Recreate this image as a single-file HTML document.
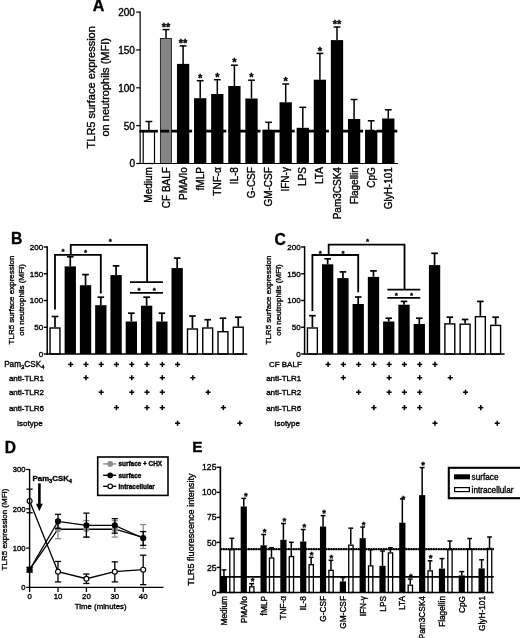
<!DOCTYPE html>
<html lang="en"><head><meta charset="utf-8"><title>TLR5 expression on neutrophils</title>
<style>html,body{margin:0;padding:0;background:#fff}body{width:520px;height:638px;overflow:hidden}svg{display:block}text{font-family:"Liberation Sans", sans-serif;fill:#000;stroke:#000;stroke-width:0.35px}</style>
</head><body>
<svg width="520" height="638" viewBox="0 0 520 638">
<rect width="520" height="638" fill="#fff"/>
<g id="panelA">
<text x="92.70" y="11.20" font-size="16" text-anchor="start" font-weight="bold" >A</text>
<text x="94.90" y="87.30" font-size="11" text-anchor="middle" font-weight="normal" transform="rotate(-90 94.90 87.30)" >TLR5 surface expression</text>
<text x="108.90" y="87.30" font-size="11" text-anchor="middle" font-weight="normal" transform="rotate(-90 108.90 87.30)" >on neutrophils (MFI)</text>
<line x1="148.90" y1="121.50" x2="148.90" y2="131.00" stroke="#000" stroke-width="1.5" />
<line x1="145.50" y1="121.50" x2="152.30" y2="121.50" stroke="#000" stroke-width="1.5" />
<rect x="143.20" y="131.00" width="11.30" height="32.50" fill="#fff" stroke="#000" stroke-width="1.2"/>
<text x="152.50" y="167.10" font-size="10" text-anchor="end" font-weight="normal" transform="rotate(-90 152.50 167.10)" >Medium</text>
<line x1="166.00" y1="29.60" x2="166.00" y2="38.10" stroke="#000" stroke-width="1.5" />
<line x1="162.60" y1="29.60" x2="169.40" y2="29.60" stroke="#000" stroke-width="1.5" />
<rect x="160.45" y="38.50" width="11.00" height="125.00" fill="#848484" stroke="#2a2a2a" stroke-width="1.0"/>
<text x="166.00" y="30.70" font-size="11" text-anchor="middle" font-weight="bold" >**</text>
<text x="169.60" y="167.10" font-size="10" text-anchor="end" font-weight="normal" transform="rotate(-90 169.60 167.10)" >CF BALF</text>
<line x1="183.10" y1="45.90" x2="183.10" y2="63.90" stroke="#000" stroke-width="1.5" />
<line x1="179.70" y1="45.90" x2="186.50" y2="45.90" stroke="#000" stroke-width="1.5" />
<rect x="176.95" y="63.90" width="12.30" height="99.60" fill="#000"/>
<text x="183.10" y="47.00" font-size="11" text-anchor="middle" font-weight="bold" >**</text>
<text x="186.70" y="167.10" font-size="10" text-anchor="end" font-weight="normal" transform="rotate(-90 186.70 167.10)" >PMA/Io</text>
<line x1="200.20" y1="80.70" x2="200.20" y2="98.20" stroke="#000" stroke-width="1.5" />
<line x1="196.80" y1="80.70" x2="203.60" y2="80.70" stroke="#000" stroke-width="1.5" />
<rect x="194.05" y="98.20" width="12.30" height="65.30" fill="#000"/>
<text x="200.20" y="81.80" font-size="11" text-anchor="middle" font-weight="bold" >*</text>
<text x="203.80" y="167.10" font-size="10" text-anchor="end" font-weight="normal" transform="rotate(-90 203.80 167.10)" >fMLP</text>
<line x1="217.30" y1="79.70" x2="217.30" y2="94.00" stroke="#000" stroke-width="1.5" />
<line x1="213.90" y1="79.70" x2="220.70" y2="79.70" stroke="#000" stroke-width="1.5" />
<rect x="211.15" y="94.00" width="12.30" height="69.50" fill="#000"/>
<text x="217.30" y="80.80" font-size="11" text-anchor="middle" font-weight="bold" >*</text>
<text x="220.90" y="167.10" font-size="10" text-anchor="end" font-weight="normal" transform="rotate(-90 220.90 167.10)" >TNF-α</text>
<line x1="234.40" y1="65.20" x2="234.40" y2="86.00" stroke="#000" stroke-width="1.5" />
<line x1="231.00" y1="65.20" x2="237.80" y2="65.20" stroke="#000" stroke-width="1.5" />
<rect x="228.25" y="86.00" width="12.30" height="77.50" fill="#000"/>
<text x="234.40" y="66.30" font-size="11" text-anchor="middle" font-weight="bold" >*</text>
<text x="238.00" y="167.10" font-size="10" text-anchor="end" font-weight="normal" transform="rotate(-90 238.00 167.10)" >IL-8</text>
<line x1="251.50" y1="80.20" x2="251.50" y2="98.50" stroke="#000" stroke-width="1.5" />
<line x1="248.10" y1="80.20" x2="254.90" y2="80.20" stroke="#000" stroke-width="1.5" />
<rect x="245.35" y="98.50" width="12.30" height="65.00" fill="#000"/>
<text x="251.50" y="81.30" font-size="11" text-anchor="middle" font-weight="bold" >*</text>
<text x="255.10" y="167.10" font-size="10" text-anchor="end" font-weight="normal" transform="rotate(-90 255.10 167.10)" >G-CSF</text>
<line x1="268.60" y1="122.30" x2="268.60" y2="129.80" stroke="#000" stroke-width="1.5" />
<line x1="265.20" y1="122.30" x2="272.00" y2="122.30" stroke="#000" stroke-width="1.5" />
<rect x="262.45" y="129.80" width="12.30" height="33.70" fill="#000"/>
<text x="272.20" y="167.10" font-size="10" text-anchor="end" font-weight="normal" transform="rotate(-90 272.20 167.10)" >GM-CSF</text>
<line x1="285.70" y1="84.00" x2="285.70" y2="102.30" stroke="#000" stroke-width="1.5" />
<line x1="282.30" y1="84.00" x2="289.10" y2="84.00" stroke="#000" stroke-width="1.5" />
<rect x="279.55" y="102.30" width="12.30" height="61.20" fill="#000"/>
<text x="285.70" y="85.10" font-size="11" text-anchor="middle" font-weight="bold" >*</text>
<text x="289.30" y="167.10" font-size="10" text-anchor="end" font-weight="normal" transform="rotate(-90 289.30 167.10)" >IFN-γ</text>
<line x1="302.80" y1="107.30" x2="302.80" y2="127.80" stroke="#000" stroke-width="1.5" />
<line x1="299.40" y1="107.30" x2="306.20" y2="107.30" stroke="#000" stroke-width="1.5" />
<rect x="296.65" y="127.80" width="12.30" height="35.70" fill="#000"/>
<text x="306.40" y="167.10" font-size="10" text-anchor="end" font-weight="normal" transform="rotate(-90 306.40 167.10)" >LPS</text>
<line x1="319.90" y1="53.40" x2="319.90" y2="79.70" stroke="#000" stroke-width="1.5" />
<line x1="316.50" y1="53.40" x2="323.30" y2="53.40" stroke="#000" stroke-width="1.5" />
<rect x="313.75" y="79.70" width="12.30" height="83.80" fill="#000"/>
<text x="319.90" y="54.50" font-size="11" text-anchor="middle" font-weight="bold" >*</text>
<text x="323.50" y="167.10" font-size="10" text-anchor="end" font-weight="normal" transform="rotate(-90 323.50 167.10)" >LTA</text>
<line x1="337.00" y1="27.00" x2="337.00" y2="40.10" stroke="#000" stroke-width="1.5" />
<line x1="333.60" y1="27.00" x2="340.40" y2="27.00" stroke="#000" stroke-width="1.5" />
<rect x="330.85" y="40.10" width="12.30" height="123.40" fill="#000"/>
<text x="337.00" y="28.10" font-size="11" text-anchor="middle" font-weight="bold" >**</text>
<text x="340.60" y="167.10" font-size="10" text-anchor="end" font-weight="normal" transform="rotate(-90 340.60 167.10)" >Pam3CSK4</text>
<line x1="354.10" y1="99.50" x2="354.10" y2="119.00" stroke="#000" stroke-width="1.5" />
<line x1="350.70" y1="99.50" x2="357.50" y2="99.50" stroke="#000" stroke-width="1.5" />
<rect x="347.95" y="119.00" width="12.30" height="44.50" fill="#000"/>
<text x="357.70" y="167.10" font-size="10" text-anchor="end" font-weight="normal" transform="rotate(-90 357.70 167.10)" >Flagellin</text>
<line x1="371.20" y1="120.80" x2="371.20" y2="130.30" stroke="#000" stroke-width="1.5" />
<line x1="367.80" y1="120.80" x2="374.60" y2="120.80" stroke="#000" stroke-width="1.5" />
<rect x="365.05" y="130.30" width="12.30" height="33.20" fill="#000"/>
<text x="374.80" y="167.10" font-size="10" text-anchor="end" font-weight="normal" transform="rotate(-90 374.80 167.10)" >CpG</text>
<line x1="388.30" y1="109.80" x2="388.30" y2="118.50" stroke="#000" stroke-width="1.5" />
<line x1="384.90" y1="109.80" x2="391.70" y2="109.80" stroke="#000" stroke-width="1.5" />
<rect x="382.15" y="118.50" width="12.30" height="45.00" fill="#000"/>
<text x="391.90" y="167.10" font-size="10" text-anchor="end" font-weight="normal" transform="rotate(-90 391.90 167.10)" >GlyH-101</text>
<line x1="140.15" y1="11.60" x2="140.15" y2="164.10" stroke="#000" stroke-width="1.2" />
<line x1="139.55" y1="163.50" x2="398.00" y2="163.50" stroke="#000" stroke-width="1.2" />
<line x1="136.15" y1="163.50" x2="140.15" y2="163.50" stroke="#000" stroke-width="1.2" />
<text x="134.95" y="167.40" font-size="10" text-anchor="end" font-weight="normal" >0</text>
<line x1="136.15" y1="125.65" x2="140.15" y2="125.65" stroke="#000" stroke-width="1.2" />
<text x="134.95" y="129.55" font-size="10" text-anchor="end" font-weight="normal" >50</text>
<line x1="136.15" y1="87.80" x2="140.15" y2="87.80" stroke="#000" stroke-width="1.2" />
<text x="134.95" y="91.70" font-size="10" text-anchor="end" font-weight="normal" >100</text>
<line x1="136.15" y1="49.95" x2="140.15" y2="49.95" stroke="#000" stroke-width="1.2" />
<text x="134.95" y="53.85" font-size="10" text-anchor="end" font-weight="normal" >150</text>
<line x1="136.15" y1="12.10" x2="140.15" y2="12.10" stroke="#000" stroke-width="1.2" />
<text x="134.95" y="16.00" font-size="10" text-anchor="end" font-weight="normal" >200</text>
<line x1="139.40" y1="131.20" x2="157.90" y2="131.20" stroke="#000" stroke-width="2.7" />
<line x1="160.10" y1="131.20" x2="398.50" y2="131.20" stroke="#000" stroke-width="2.7" stroke-dasharray="9.2 2.2"/>
</g>
<g id="panelB">
<text x="11.10" y="244.40" font-size="15.7" text-anchor="start" font-weight="bold" >B</text>
<text x="13.60" y="300.00" font-size="8" text-anchor="middle" font-weight="normal" transform="rotate(-90 13.60 300.00)" >TLR5 surface expression</text>
<text x="23.60" y="300.00" font-size="8" text-anchor="middle" font-weight="normal" transform="rotate(-90 23.60 300.00)" >on neutrophils (MFI)</text>
<line x1="55.00" y1="316.50" x2="55.00" y2="327.30" stroke="#000" stroke-width="1.7" />
<line x1="51.70" y1="316.50" x2="58.30" y2="316.50" stroke="#000" stroke-width="1.7" />
<rect x="50.05" y="328.00" width="9.90" height="26.00" fill="#fff" stroke="#000" stroke-width="1.4"/>
<line x1="70.27" y1="256.80" x2="70.27" y2="266.40" stroke="#000" stroke-width="1.7" />
<line x1="66.97" y1="256.80" x2="73.57" y2="256.80" stroke="#000" stroke-width="1.7" />
<rect x="64.62" y="266.40" width="11.30" height="87.60" fill="#000"/>
<line x1="85.54" y1="274.60" x2="85.54" y2="285.20" stroke="#000" stroke-width="1.7" />
<line x1="82.24" y1="274.60" x2="88.84" y2="274.60" stroke="#000" stroke-width="1.7" />
<rect x="79.89" y="285.20" width="11.30" height="68.80" fill="#000"/>
<line x1="100.81" y1="297.20" x2="100.81" y2="305.20" stroke="#000" stroke-width="1.7" />
<line x1="97.51" y1="297.20" x2="104.11" y2="297.20" stroke="#000" stroke-width="1.7" />
<rect x="95.16" y="305.20" width="11.30" height="48.80" fill="#000"/>
<line x1="116.08" y1="265.90" x2="116.08" y2="275.10" stroke="#000" stroke-width="1.7" />
<line x1="112.78" y1="265.90" x2="119.38" y2="265.90" stroke="#000" stroke-width="1.7" />
<rect x="110.43" y="275.10" width="11.30" height="78.90" fill="#000"/>
<line x1="131.35" y1="313.20" x2="131.35" y2="321.50" stroke="#000" stroke-width="1.7" />
<line x1="128.05" y1="313.20" x2="134.65" y2="313.20" stroke="#000" stroke-width="1.7" />
<rect x="125.70" y="321.50" width="11.30" height="32.50" fill="#000"/>
<line x1="146.62" y1="297.20" x2="146.62" y2="305.70" stroke="#000" stroke-width="1.7" />
<line x1="143.32" y1="297.20" x2="149.92" y2="297.20" stroke="#000" stroke-width="1.7" />
<rect x="140.97" y="305.70" width="11.30" height="48.30" fill="#000"/>
<line x1="161.89" y1="313.20" x2="161.89" y2="321.50" stroke="#000" stroke-width="1.7" />
<line x1="158.59" y1="313.20" x2="165.19" y2="313.20" stroke="#000" stroke-width="1.7" />
<rect x="156.24" y="321.50" width="11.30" height="32.50" fill="#000"/>
<line x1="177.16" y1="258.10" x2="177.16" y2="268.10" stroke="#000" stroke-width="1.7" />
<line x1="173.86" y1="258.10" x2="180.46" y2="258.10" stroke="#000" stroke-width="1.7" />
<rect x="171.51" y="268.10" width="11.30" height="85.90" fill="#000"/>
<line x1="192.43" y1="316.00" x2="192.43" y2="328.30" stroke="#000" stroke-width="1.7" />
<line x1="189.13" y1="316.00" x2="195.73" y2="316.00" stroke="#000" stroke-width="1.7" />
<rect x="187.48" y="329.00" width="9.90" height="25.00" fill="#fff" stroke="#000" stroke-width="1.4"/>
<line x1="207.70" y1="319.70" x2="207.70" y2="327.30" stroke="#000" stroke-width="1.7" />
<line x1="204.40" y1="319.70" x2="211.00" y2="319.70" stroke="#000" stroke-width="1.7" />
<rect x="202.75" y="328.00" width="9.90" height="26.00" fill="#fff" stroke="#000" stroke-width="1.4"/>
<line x1="222.97" y1="318.20" x2="222.97" y2="331.00" stroke="#000" stroke-width="1.7" />
<line x1="219.67" y1="318.20" x2="226.27" y2="318.20" stroke="#000" stroke-width="1.7" />
<rect x="218.02" y="331.70" width="9.90" height="22.30" fill="#fff" stroke="#000" stroke-width="1.4"/>
<line x1="238.24" y1="317.20" x2="238.24" y2="326.50" stroke="#000" stroke-width="1.7" />
<line x1="234.94" y1="317.20" x2="241.54" y2="317.20" stroke="#000" stroke-width="1.7" />
<rect x="233.29" y="327.20" width="9.90" height="26.80" fill="#fff" stroke="#000" stroke-width="1.4"/>
<line x1="47.20" y1="246.30" x2="47.20" y2="354.70" stroke="#000" stroke-width="1.5" />
<line x1="46.50" y1="354.00" x2="247.20" y2="354.00" stroke="#000" stroke-width="1.5" />
<line x1="43.70" y1="354.00" x2="47.20" y2="354.00" stroke="#000" stroke-width="1.4" />
<text x="43.20" y="356.90" font-size="8" text-anchor="end" font-weight="normal" >0</text>
<line x1="43.70" y1="327.25" x2="47.20" y2="327.25" stroke="#000" stroke-width="1.4" />
<text x="43.20" y="330.15" font-size="8" text-anchor="end" font-weight="normal" >50</text>
<line x1="43.70" y1="300.50" x2="47.20" y2="300.50" stroke="#000" stroke-width="1.4" />
<text x="43.20" y="303.40" font-size="8" text-anchor="end" font-weight="normal" >100</text>
<line x1="43.70" y1="273.75" x2="47.20" y2="273.75" stroke="#000" stroke-width="1.4" />
<text x="43.20" y="276.65" font-size="8" text-anchor="end" font-weight="normal" >150</text>
<line x1="43.70" y1="247.00" x2="47.20" y2="247.00" stroke="#000" stroke-width="1.4" />
<text x="43.20" y="249.90" font-size="8" text-anchor="end" font-weight="normal" >200</text>
<polyline points="55.00,309.50 55.00,254.80 100.81,254.80 100.81,293.50" fill="none" stroke="#000" stroke-width="1.8"/>
<polyline points="70.77,254.80 70.77,244.80 147.12,244.80 147.12,282.10" fill="none" stroke="#000" stroke-width="1.8"/>
<line x1="129.95" y1="282.10" x2="162.89" y2="282.10" stroke="#000" stroke-width="1.8" />
<line x1="129.95" y1="292.90" x2="162.89" y2="292.90" stroke="#000" stroke-width="1.8" />
<text x="138.99" y="293.10" font-size="8" text-anchor="middle" font-weight="bold" >*</text>
<text x="154.25" y="293.10" font-size="8" text-anchor="middle" font-weight="bold" >*</text>
<text x="62.94" y="254.20" font-size="8" text-anchor="middle" font-weight="bold" >*</text>
<text x="85.68" y="255.40" font-size="8" text-anchor="middle" font-weight="bold" >*</text>
<text x="110.28" y="244.10" font-size="8" text-anchor="middle" font-weight="bold" >*</text>
<text x="44.50" y="367.30" font-size="8" text-anchor="end" font-weight="normal" ><tspan font-size="8.2">Pam</tspan><tspan font-size="6" dy="1.5">3</tspan><tspan font-size="8.2" dy="-1.5">CSK</tspan><tspan font-size="6" dy="1.5">4</tspan></text>
<line x1="68.12" y1="364.40" x2="73.22" y2="364.40" stroke="#000" stroke-width="1.5" />
<line x1="70.67" y1="361.85" x2="70.67" y2="366.95" stroke="#000" stroke-width="1.5" />
<line x1="83.39" y1="364.40" x2="88.49" y2="364.40" stroke="#000" stroke-width="1.5" />
<line x1="85.94" y1="361.85" x2="85.94" y2="366.95" stroke="#000" stroke-width="1.5" />
<line x1="98.66" y1="364.40" x2="103.76" y2="364.40" stroke="#000" stroke-width="1.5" />
<line x1="101.21" y1="361.85" x2="101.21" y2="366.95" stroke="#000" stroke-width="1.5" />
<line x1="113.93" y1="364.40" x2="119.03" y2="364.40" stroke="#000" stroke-width="1.5" />
<line x1="116.48" y1="361.85" x2="116.48" y2="366.95" stroke="#000" stroke-width="1.5" />
<line x1="129.20" y1="364.40" x2="134.30" y2="364.40" stroke="#000" stroke-width="1.5" />
<line x1="131.75" y1="361.85" x2="131.75" y2="366.95" stroke="#000" stroke-width="1.5" />
<line x1="144.47" y1="364.40" x2="149.57" y2="364.40" stroke="#000" stroke-width="1.5" />
<line x1="147.02" y1="361.85" x2="147.02" y2="366.95" stroke="#000" stroke-width="1.5" />
<line x1="159.74" y1="364.40" x2="164.84" y2="364.40" stroke="#000" stroke-width="1.5" />
<line x1="162.29" y1="361.85" x2="162.29" y2="366.95" stroke="#000" stroke-width="1.5" />
<line x1="175.01" y1="364.40" x2="180.11" y2="364.40" stroke="#000" stroke-width="1.5" />
<line x1="177.56" y1="361.85" x2="177.56" y2="366.95" stroke="#000" stroke-width="1.5" />
<text x="44.00" y="380.60" font-size="8" text-anchor="end" font-weight="normal" >anti-TLR1</text>
<line x1="83.39" y1="377.70" x2="88.49" y2="377.70" stroke="#000" stroke-width="1.5" />
<line x1="85.94" y1="375.15" x2="85.94" y2="380.25" stroke="#000" stroke-width="1.5" />
<line x1="129.20" y1="377.70" x2="134.30" y2="377.70" stroke="#000" stroke-width="1.5" />
<line x1="131.75" y1="375.15" x2="131.75" y2="380.25" stroke="#000" stroke-width="1.5" />
<line x1="159.74" y1="377.70" x2="164.84" y2="377.70" stroke="#000" stroke-width="1.5" />
<line x1="162.29" y1="375.15" x2="162.29" y2="380.25" stroke="#000" stroke-width="1.5" />
<line x1="190.28" y1="377.70" x2="195.38" y2="377.70" stroke="#000" stroke-width="1.5" />
<line x1="192.83" y1="375.15" x2="192.83" y2="380.25" stroke="#000" stroke-width="1.5" />
<text x="44.00" y="395.10" font-size="8" text-anchor="end" font-weight="normal" >anti-TLR2</text>
<line x1="98.66" y1="392.20" x2="103.76" y2="392.20" stroke="#000" stroke-width="1.5" />
<line x1="101.21" y1="389.65" x2="101.21" y2="394.75" stroke="#000" stroke-width="1.5" />
<line x1="129.20" y1="392.20" x2="134.30" y2="392.20" stroke="#000" stroke-width="1.5" />
<line x1="131.75" y1="389.65" x2="131.75" y2="394.75" stroke="#000" stroke-width="1.5" />
<line x1="144.47" y1="392.20" x2="149.57" y2="392.20" stroke="#000" stroke-width="1.5" />
<line x1="147.02" y1="389.65" x2="147.02" y2="394.75" stroke="#000" stroke-width="1.5" />
<line x1="159.74" y1="392.20" x2="164.84" y2="392.20" stroke="#000" stroke-width="1.5" />
<line x1="162.29" y1="389.65" x2="162.29" y2="394.75" stroke="#000" stroke-width="1.5" />
<line x1="205.55" y1="392.20" x2="210.65" y2="392.20" stroke="#000" stroke-width="1.5" />
<line x1="208.10" y1="389.65" x2="208.10" y2="394.75" stroke="#000" stroke-width="1.5" />
<text x="44.00" y="410.50" font-size="8" text-anchor="end" font-weight="normal" >anti-TLR6</text>
<line x1="113.93" y1="407.60" x2="119.03" y2="407.60" stroke="#000" stroke-width="1.5" />
<line x1="116.48" y1="405.05" x2="116.48" y2="410.15" stroke="#000" stroke-width="1.5" />
<line x1="144.47" y1="407.60" x2="149.57" y2="407.60" stroke="#000" stroke-width="1.5" />
<line x1="147.02" y1="405.05" x2="147.02" y2="410.15" stroke="#000" stroke-width="1.5" />
<line x1="159.74" y1="407.60" x2="164.84" y2="407.60" stroke="#000" stroke-width="1.5" />
<line x1="162.29" y1="405.05" x2="162.29" y2="410.15" stroke="#000" stroke-width="1.5" />
<line x1="220.82" y1="407.60" x2="225.92" y2="407.60" stroke="#000" stroke-width="1.5" />
<line x1="223.37" y1="405.05" x2="223.37" y2="410.15" stroke="#000" stroke-width="1.5" />
<text x="42.70" y="426.10" font-size="8" text-anchor="end" font-weight="normal" >Isotype</text>
<line x1="175.01" y1="423.20" x2="180.11" y2="423.20" stroke="#000" stroke-width="1.5" />
<line x1="177.56" y1="420.65" x2="177.56" y2="425.75" stroke="#000" stroke-width="1.5" />
<line x1="237.29" y1="423.20" x2="242.39" y2="423.20" stroke="#000" stroke-width="1.5" />
<line x1="239.84" y1="420.65" x2="239.84" y2="425.75" stroke="#000" stroke-width="1.5" />
</g>
<g id="panelC">
<text x="274.60" y="244.80" font-size="15.7" text-anchor="start" font-weight="bold" >C</text>
<text x="271.00" y="300.00" font-size="8" text-anchor="middle" font-weight="normal" transform="rotate(-90 271.00 300.00)" >TLR5 surface expression</text>
<text x="281.00" y="300.00" font-size="8" text-anchor="middle" font-weight="normal" transform="rotate(-90 281.00 300.00)" >on neutrophils (MFI)</text>
<line x1="312.40" y1="315.70" x2="312.40" y2="327.30" stroke="#000" stroke-width="1.7" />
<line x1="309.10" y1="315.70" x2="315.70" y2="315.70" stroke="#000" stroke-width="1.7" />
<rect x="307.45" y="328.00" width="9.90" height="26.00" fill="#fff" stroke="#000" stroke-width="1.4"/>
<line x1="327.67" y1="258.80" x2="327.67" y2="264.30" stroke="#000" stroke-width="1.7" />
<line x1="324.37" y1="258.80" x2="330.97" y2="258.80" stroke="#000" stroke-width="1.7" />
<rect x="322.02" y="264.30" width="11.30" height="89.70" fill="#000"/>
<line x1="342.94" y1="271.90" x2="342.94" y2="278.10" stroke="#000" stroke-width="1.7" />
<line x1="339.64" y1="271.90" x2="346.24" y2="271.90" stroke="#000" stroke-width="1.7" />
<rect x="337.29" y="278.10" width="11.30" height="75.90" fill="#000"/>
<line x1="358.21" y1="297.00" x2="358.21" y2="304.00" stroke="#000" stroke-width="1.7" />
<line x1="354.91" y1="297.00" x2="361.51" y2="297.00" stroke="#000" stroke-width="1.7" />
<rect x="352.56" y="304.00" width="11.30" height="50.00" fill="#000"/>
<line x1="373.48" y1="270.90" x2="373.48" y2="276.90" stroke="#000" stroke-width="1.7" />
<line x1="370.18" y1="270.90" x2="376.78" y2="270.90" stroke="#000" stroke-width="1.7" />
<rect x="367.83" y="276.90" width="11.30" height="77.10" fill="#000"/>
<line x1="388.75" y1="318.20" x2="388.75" y2="321.50" stroke="#000" stroke-width="1.7" />
<line x1="385.45" y1="318.20" x2="392.05" y2="318.20" stroke="#000" stroke-width="1.7" />
<rect x="383.10" y="321.50" width="11.30" height="32.50" fill="#000"/>
<line x1="404.02" y1="301.40" x2="404.02" y2="304.70" stroke="#000" stroke-width="1.7" />
<line x1="400.72" y1="301.40" x2="407.32" y2="301.40" stroke="#000" stroke-width="1.7" />
<rect x="398.37" y="304.70" width="11.30" height="49.30" fill="#000"/>
<line x1="419.29" y1="318.20" x2="419.29" y2="324.00" stroke="#000" stroke-width="1.7" />
<line x1="415.99" y1="318.20" x2="422.59" y2="318.20" stroke="#000" stroke-width="1.7" />
<rect x="413.64" y="324.00" width="11.30" height="30.00" fill="#000"/>
<line x1="434.56" y1="253.30" x2="434.56" y2="265.10" stroke="#000" stroke-width="1.7" />
<line x1="431.26" y1="253.30" x2="437.86" y2="253.30" stroke="#000" stroke-width="1.7" />
<rect x="428.91" y="265.10" width="11.30" height="88.90" fill="#000"/>
<line x1="449.83" y1="317.20" x2="449.83" y2="323.20" stroke="#000" stroke-width="1.7" />
<line x1="446.53" y1="317.20" x2="453.13" y2="317.20" stroke="#000" stroke-width="1.7" />
<rect x="444.88" y="323.90" width="9.90" height="30.10" fill="#fff" stroke="#000" stroke-width="1.4"/>
<line x1="465.10" y1="319.50" x2="465.10" y2="323.50" stroke="#000" stroke-width="1.7" />
<line x1="461.80" y1="319.50" x2="468.40" y2="319.50" stroke="#000" stroke-width="1.7" />
<rect x="460.15" y="324.20" width="9.90" height="29.80" fill="#fff" stroke="#000" stroke-width="1.4"/>
<line x1="480.37" y1="301.40" x2="480.37" y2="316.00" stroke="#000" stroke-width="1.7" />
<line x1="477.07" y1="301.40" x2="483.67" y2="301.40" stroke="#000" stroke-width="1.7" />
<rect x="475.42" y="316.70" width="9.90" height="37.30" fill="#fff" stroke="#000" stroke-width="1.4"/>
<line x1="495.64" y1="317.20" x2="495.64" y2="324.70" stroke="#000" stroke-width="1.7" />
<line x1="492.34" y1="317.20" x2="498.94" y2="317.20" stroke="#000" stroke-width="1.7" />
<rect x="490.69" y="325.40" width="9.90" height="28.60" fill="#fff" stroke="#000" stroke-width="1.4"/>
<line x1="304.60" y1="246.30" x2="304.60" y2="354.70" stroke="#000" stroke-width="1.5" />
<line x1="303.90" y1="354.00" x2="504.60" y2="354.00" stroke="#000" stroke-width="1.5" />
<line x1="301.10" y1="354.00" x2="304.60" y2="354.00" stroke="#000" stroke-width="1.4" />
<text x="300.60" y="356.90" font-size="8" text-anchor="end" font-weight="normal" >0</text>
<line x1="301.10" y1="327.25" x2="304.60" y2="327.25" stroke="#000" stroke-width="1.4" />
<text x="300.60" y="330.15" font-size="8" text-anchor="end" font-weight="normal" >50</text>
<line x1="301.10" y1="300.50" x2="304.60" y2="300.50" stroke="#000" stroke-width="1.4" />
<text x="300.60" y="303.40" font-size="8" text-anchor="end" font-weight="normal" >100</text>
<line x1="301.10" y1="273.75" x2="304.60" y2="273.75" stroke="#000" stroke-width="1.4" />
<text x="300.60" y="276.65" font-size="8" text-anchor="end" font-weight="normal" >150</text>
<line x1="301.10" y1="247.00" x2="304.60" y2="247.00" stroke="#000" stroke-width="1.4" />
<text x="300.60" y="249.90" font-size="8" text-anchor="end" font-weight="normal" >200</text>
<polyline points="312.40,311.00 312.40,255.00 358.21,255.00 358.21,292.20" fill="none" stroke="#000" stroke-width="1.8"/>
<polyline points="328.67,255.00 328.67,244.60 404.52,244.60 404.52,289.60" fill="none" stroke="#000" stroke-width="1.8"/>
<line x1="387.35" y1="289.60" x2="420.29" y2="289.60" stroke="#000" stroke-width="1.8" />
<line x1="387.35" y1="297.90" x2="420.29" y2="297.90" stroke="#000" stroke-width="1.8" />
<text x="396.38" y="298.35" font-size="8" text-anchor="middle" font-weight="bold" >*</text>
<text x="411.65" y="298.35" font-size="8" text-anchor="middle" font-weight="bold" >*</text>
<text x="320.33" y="256.00" font-size="8" text-anchor="middle" font-weight="bold" >*</text>
<text x="343.07" y="256.40" font-size="8" text-anchor="middle" font-weight="bold" >*</text>
<text x="367.68" y="244.10" font-size="8" text-anchor="middle" font-weight="bold" >*</text>
<text x="301.80" y="367.30" font-size="8" text-anchor="end" font-weight="normal" >CF BALF</text>
<line x1="325.52" y1="364.40" x2="330.62" y2="364.40" stroke="#000" stroke-width="1.5" />
<line x1="328.07" y1="361.85" x2="328.07" y2="366.95" stroke="#000" stroke-width="1.5" />
<line x1="340.79" y1="364.40" x2="345.89" y2="364.40" stroke="#000" stroke-width="1.5" />
<line x1="343.34" y1="361.85" x2="343.34" y2="366.95" stroke="#000" stroke-width="1.5" />
<line x1="356.06" y1="364.40" x2="361.16" y2="364.40" stroke="#000" stroke-width="1.5" />
<line x1="358.61" y1="361.85" x2="358.61" y2="366.95" stroke="#000" stroke-width="1.5" />
<line x1="371.33" y1="364.40" x2="376.43" y2="364.40" stroke="#000" stroke-width="1.5" />
<line x1="373.88" y1="361.85" x2="373.88" y2="366.95" stroke="#000" stroke-width="1.5" />
<line x1="386.60" y1="364.40" x2="391.70" y2="364.40" stroke="#000" stroke-width="1.5" />
<line x1="389.15" y1="361.85" x2="389.15" y2="366.95" stroke="#000" stroke-width="1.5" />
<line x1="401.87" y1="364.40" x2="406.97" y2="364.40" stroke="#000" stroke-width="1.5" />
<line x1="404.42" y1="361.85" x2="404.42" y2="366.95" stroke="#000" stroke-width="1.5" />
<line x1="417.14" y1="364.40" x2="422.24" y2="364.40" stroke="#000" stroke-width="1.5" />
<line x1="419.69" y1="361.85" x2="419.69" y2="366.95" stroke="#000" stroke-width="1.5" />
<line x1="432.41" y1="364.40" x2="437.51" y2="364.40" stroke="#000" stroke-width="1.5" />
<line x1="434.96" y1="361.85" x2="434.96" y2="366.95" stroke="#000" stroke-width="1.5" />
<text x="301.30" y="380.60" font-size="8" text-anchor="end" font-weight="normal" >anti-TLR1</text>
<line x1="340.79" y1="377.70" x2="345.89" y2="377.70" stroke="#000" stroke-width="1.5" />
<line x1="343.34" y1="375.15" x2="343.34" y2="380.25" stroke="#000" stroke-width="1.5" />
<line x1="386.60" y1="377.70" x2="391.70" y2="377.70" stroke="#000" stroke-width="1.5" />
<line x1="389.15" y1="375.15" x2="389.15" y2="380.25" stroke="#000" stroke-width="1.5" />
<line x1="417.14" y1="377.70" x2="422.24" y2="377.70" stroke="#000" stroke-width="1.5" />
<line x1="419.69" y1="375.15" x2="419.69" y2="380.25" stroke="#000" stroke-width="1.5" />
<line x1="447.68" y1="377.70" x2="452.78" y2="377.70" stroke="#000" stroke-width="1.5" />
<line x1="450.23" y1="375.15" x2="450.23" y2="380.25" stroke="#000" stroke-width="1.5" />
<text x="301.30" y="395.10" font-size="8" text-anchor="end" font-weight="normal" >anti-TLR2</text>
<line x1="356.06" y1="392.20" x2="361.16" y2="392.20" stroke="#000" stroke-width="1.5" />
<line x1="358.61" y1="389.65" x2="358.61" y2="394.75" stroke="#000" stroke-width="1.5" />
<line x1="386.60" y1="392.20" x2="391.70" y2="392.20" stroke="#000" stroke-width="1.5" />
<line x1="389.15" y1="389.65" x2="389.15" y2="394.75" stroke="#000" stroke-width="1.5" />
<line x1="401.87" y1="392.20" x2="406.97" y2="392.20" stroke="#000" stroke-width="1.5" />
<line x1="404.42" y1="389.65" x2="404.42" y2="394.75" stroke="#000" stroke-width="1.5" />
<line x1="417.14" y1="392.20" x2="422.24" y2="392.20" stroke="#000" stroke-width="1.5" />
<line x1="419.69" y1="389.65" x2="419.69" y2="394.75" stroke="#000" stroke-width="1.5" />
<line x1="462.95" y1="392.20" x2="468.05" y2="392.20" stroke="#000" stroke-width="1.5" />
<line x1="465.50" y1="389.65" x2="465.50" y2="394.75" stroke="#000" stroke-width="1.5" />
<text x="301.30" y="410.50" font-size="8" text-anchor="end" font-weight="normal" >anti-TLR6</text>
<line x1="371.33" y1="407.60" x2="376.43" y2="407.60" stroke="#000" stroke-width="1.5" />
<line x1="373.88" y1="405.05" x2="373.88" y2="410.15" stroke="#000" stroke-width="1.5" />
<line x1="401.87" y1="407.60" x2="406.97" y2="407.60" stroke="#000" stroke-width="1.5" />
<line x1="404.42" y1="405.05" x2="404.42" y2="410.15" stroke="#000" stroke-width="1.5" />
<line x1="417.14" y1="407.60" x2="422.24" y2="407.60" stroke="#000" stroke-width="1.5" />
<line x1="419.69" y1="405.05" x2="419.69" y2="410.15" stroke="#000" stroke-width="1.5" />
<line x1="478.22" y1="407.60" x2="483.32" y2="407.60" stroke="#000" stroke-width="1.5" />
<line x1="480.77" y1="405.05" x2="480.77" y2="410.15" stroke="#000" stroke-width="1.5" />
<text x="300.00" y="426.10" font-size="8" text-anchor="end" font-weight="normal" >Isotype</text>
<line x1="432.41" y1="423.20" x2="437.51" y2="423.20" stroke="#000" stroke-width="1.5" />
<line x1="434.96" y1="420.65" x2="434.96" y2="425.75" stroke="#000" stroke-width="1.5" />
<line x1="494.69" y1="423.20" x2="499.79" y2="423.20" stroke="#000" stroke-width="1.5" />
<line x1="497.24" y1="420.65" x2="497.24" y2="425.75" stroke="#000" stroke-width="1.5" />
</g>
<g id="panelD">
<text x="4.80" y="453.10" font-size="15.6" text-anchor="start" font-weight="bold" >D</text>
<text x="6.80" y="529.50" font-size="8" text-anchor="middle" font-weight="normal" transform="rotate(-90 6.80 529.50)" >TLR5 expression (MFI)</text>
<line x1="29.60" y1="567.36" x2="29.60" y2="572.07" stroke="#8c8c8c" stroke-width="1.3" />
<line x1="26.50" y1="567.36" x2="32.70" y2="567.36" stroke="#8c8c8c" stroke-width="1.3" />
<line x1="26.50" y1="572.07" x2="32.70" y2="572.07" stroke="#8c8c8c" stroke-width="1.3" />
<line x1="58.00" y1="519.80" x2="58.00" y2="538.67" stroke="#8c8c8c" stroke-width="1.3" />
<line x1="54.90" y1="519.80" x2="61.10" y2="519.80" stroke="#8c8c8c" stroke-width="1.3" />
<line x1="54.90" y1="538.67" x2="61.10" y2="538.67" stroke="#8c8c8c" stroke-width="1.3" />
<line x1="86.40" y1="520.59" x2="86.40" y2="537.10" stroke="#8c8c8c" stroke-width="1.3" />
<line x1="83.30" y1="520.59" x2="89.50" y2="520.59" stroke="#8c8c8c" stroke-width="1.3" />
<line x1="83.30" y1="537.10" x2="89.50" y2="537.10" stroke="#8c8c8c" stroke-width="1.3" />
<line x1="114.80" y1="520.59" x2="114.80" y2="537.10" stroke="#8c8c8c" stroke-width="1.3" />
<line x1="111.70" y1="520.59" x2="117.90" y2="520.59" stroke="#8c8c8c" stroke-width="1.3" />
<line x1="111.70" y1="537.10" x2="117.90" y2="537.10" stroke="#8c8c8c" stroke-width="1.3" />
<line x1="143.20" y1="524.52" x2="143.20" y2="548.49" stroke="#8c8c8c" stroke-width="1.3" />
<line x1="140.10" y1="524.52" x2="146.30" y2="524.52" stroke="#8c8c8c" stroke-width="1.3" />
<line x1="140.10" y1="548.49" x2="146.30" y2="548.49" stroke="#8c8c8c" stroke-width="1.3" />
<polyline points="29.60,569.71 58.00,529.24 86.40,529.24 114.80,529.24 143.20,537.49" fill="none" stroke="#000" stroke-width="1.3"/>
<circle cx="29.60" cy="569.71" r="2.45" fill="#8c8c8c" stroke="#8c8c8c" stroke-width="1.2"/>
<circle cx="58.00" cy="529.24" r="2.45" fill="#8c8c8c" stroke="#8c8c8c" stroke-width="1.2"/>
<circle cx="86.40" cy="529.24" r="2.45" fill="#8c8c8c" stroke="#8c8c8c" stroke-width="1.2"/>
<circle cx="114.80" cy="529.24" r="2.45" fill="#8c8c8c" stroke="#8c8c8c" stroke-width="1.2"/>
<circle cx="143.20" cy="537.49" r="2.45" fill="#8c8c8c" stroke="#8c8c8c" stroke-width="1.2"/>
<line x1="29.60" y1="489.15" x2="29.60" y2="512.73" stroke="#000" stroke-width="1.3" />
<line x1="26.50" y1="489.15" x2="32.70" y2="489.15" stroke="#000" stroke-width="1.3" />
<line x1="26.50" y1="512.73" x2="32.70" y2="512.73" stroke="#000" stroke-width="1.3" />
<line x1="58.00" y1="561.46" x2="58.00" y2="581.90" stroke="#000" stroke-width="1.3" />
<line x1="54.90" y1="561.46" x2="61.10" y2="561.46" stroke="#000" stroke-width="1.3" />
<line x1="54.90" y1="581.90" x2="61.10" y2="581.90" stroke="#000" stroke-width="1.3" />
<line x1="86.40" y1="574.04" x2="86.40" y2="583.47" stroke="#000" stroke-width="1.3" />
<line x1="83.30" y1="574.04" x2="89.50" y2="574.04" stroke="#000" stroke-width="1.3" />
<line x1="83.30" y1="583.47" x2="89.50" y2="583.47" stroke="#000" stroke-width="1.3" />
<line x1="114.80" y1="561.86" x2="114.80" y2="581.90" stroke="#000" stroke-width="1.3" />
<line x1="111.70" y1="561.86" x2="117.90" y2="561.86" stroke="#000" stroke-width="1.3" />
<line x1="111.70" y1="581.90" x2="117.90" y2="581.90" stroke="#000" stroke-width="1.3" />
<line x1="143.20" y1="555.17" x2="143.20" y2="584.65" stroke="#000" stroke-width="1.3" />
<line x1="140.10" y1="555.17" x2="146.30" y2="555.17" stroke="#000" stroke-width="1.3" />
<line x1="140.10" y1="584.65" x2="146.30" y2="584.65" stroke="#000" stroke-width="1.3" />
<polyline points="29.60,500.94 58.00,571.68 86.40,578.75 114.80,571.68 143.20,569.71" fill="none" stroke="#000" stroke-width="1.3"/>
<circle cx="29.60" cy="500.94" r="2.45" fill="#fff" stroke="#000" stroke-width="1.2"/>
<circle cx="58.00" cy="571.68" r="2.45" fill="#fff" stroke="#000" stroke-width="1.2"/>
<circle cx="86.40" cy="578.75" r="2.45" fill="#fff" stroke="#000" stroke-width="1.2"/>
<circle cx="114.80" cy="571.68" r="2.45" fill="#fff" stroke="#000" stroke-width="1.2"/>
<circle cx="143.20" cy="569.71" r="2.45" fill="#fff" stroke="#000" stroke-width="1.2"/>
<line x1="29.60" y1="567.36" x2="29.60" y2="572.07" stroke="#000" stroke-width="1.3" />
<line x1="26.50" y1="567.36" x2="32.70" y2="567.36" stroke="#000" stroke-width="1.3" />
<line x1="26.50" y1="572.07" x2="32.70" y2="572.07" stroke="#000" stroke-width="1.3" />
<line x1="58.00" y1="514.30" x2="58.00" y2="528.45" stroke="#000" stroke-width="1.3" />
<line x1="54.90" y1="514.30" x2="61.10" y2="514.30" stroke="#000" stroke-width="1.3" />
<line x1="54.90" y1="528.45" x2="61.10" y2="528.45" stroke="#000" stroke-width="1.3" />
<line x1="86.40" y1="513.12" x2="86.40" y2="537.10" stroke="#000" stroke-width="1.3" />
<line x1="83.30" y1="513.12" x2="89.50" y2="513.12" stroke="#000" stroke-width="1.3" />
<line x1="83.30" y1="537.10" x2="89.50" y2="537.10" stroke="#000" stroke-width="1.3" />
<line x1="114.80" y1="518.62" x2="114.80" y2="533.17" stroke="#000" stroke-width="1.3" />
<line x1="111.70" y1="518.62" x2="117.90" y2="518.62" stroke="#000" stroke-width="1.3" />
<line x1="111.70" y1="533.17" x2="117.90" y2="533.17" stroke="#000" stroke-width="1.3" />
<line x1="143.20" y1="531.59" x2="143.20" y2="545.35" stroke="#000" stroke-width="1.3" />
<line x1="140.10" y1="531.59" x2="146.30" y2="531.59" stroke="#000" stroke-width="1.3" />
<line x1="140.10" y1="545.35" x2="146.30" y2="545.35" stroke="#000" stroke-width="1.3" />
<polyline points="29.60,569.71 58.00,521.38 86.40,525.31 114.80,525.31 143.20,538.27" fill="none" stroke="#000" stroke-width="1.3"/>
<circle cx="29.60" cy="569.71" r="2.45" fill="#000" stroke="#000" stroke-width="1.2"/>
<circle cx="58.00" cy="521.38" r="2.45" fill="#000" stroke="#000" stroke-width="1.2"/>
<circle cx="86.40" cy="525.31" r="2.45" fill="#000" stroke="#000" stroke-width="1.2"/>
<circle cx="114.80" cy="525.31" r="2.45" fill="#000" stroke="#000" stroke-width="1.2"/>
<circle cx="143.20" cy="538.27" r="2.45" fill="#000" stroke="#000" stroke-width="1.2"/>
<line x1="29.60" y1="468.90" x2="29.60" y2="588.00" stroke="#000" stroke-width="1.4" />
<line x1="29.00" y1="587.40" x2="163.50" y2="587.40" stroke="#000" stroke-width="1.4" />
<line x1="26.10" y1="587.40" x2="29.60" y2="587.40" stroke="#000" stroke-width="1.2" />
<text x="25.40" y="590.20" font-size="7.6" text-anchor="end" font-weight="normal" >0</text>
<line x1="26.10" y1="548.10" x2="29.60" y2="548.10" stroke="#000" stroke-width="1.2" />
<text x="25.40" y="550.90" font-size="7.6" text-anchor="end" font-weight="normal" >100</text>
<line x1="26.10" y1="508.80" x2="29.60" y2="508.80" stroke="#000" stroke-width="1.2" />
<text x="25.40" y="511.60" font-size="7.6" text-anchor="end" font-weight="normal" >200</text>
<line x1="26.10" y1="469.50" x2="29.60" y2="469.50" stroke="#000" stroke-width="1.2" />
<text x="25.40" y="472.30" font-size="7.6" text-anchor="end" font-weight="normal" >300</text>
<line x1="29.60" y1="587.40" x2="29.60" y2="592.00" stroke="#000" stroke-width="1.3" />
<text x="29.60" y="599.20" font-size="7.8" text-anchor="middle" font-weight="normal" >0</text>
<line x1="58.00" y1="587.40" x2="58.00" y2="592.00" stroke="#000" stroke-width="1.3" />
<text x="58.00" y="599.20" font-size="7.8" text-anchor="middle" font-weight="normal" >10</text>
<line x1="86.40" y1="587.40" x2="86.40" y2="592.00" stroke="#000" stroke-width="1.3" />
<text x="86.40" y="599.20" font-size="7.8" text-anchor="middle" font-weight="normal" >20</text>
<line x1="114.80" y1="587.40" x2="114.80" y2="592.00" stroke="#000" stroke-width="1.3" />
<text x="114.80" y="599.20" font-size="7.8" text-anchor="middle" font-weight="normal" >30</text>
<line x1="143.20" y1="587.40" x2="143.20" y2="592.00" stroke="#000" stroke-width="1.3" />
<text x="143.20" y="599.20" font-size="7.8" text-anchor="middle" font-weight="normal" >40</text>
<text x="100.70" y="609.20" font-size="7.8" text-anchor="middle" font-weight="normal" >Time (minutes)</text>
<text x="32.60" y="481.00" font-size="7.8" text-anchor="start" font-weight="bold" >Pam<tspan font-size="5.8" dy="1.5">3</tspan><tspan dy="-1.5">CSK</tspan><tspan font-size="5.8" dy="1.5">4</tspan></text>
<line x1="39.40" y1="483.40" x2="39.40" y2="505.00" stroke="#000" stroke-width="2.6" />
<polygon points="36.0,503.8 42.8,503.8 39.4,511.2" fill="#000"/>
<rect x="97.70" y="457.00" width="70.30" height="38.40" fill="#fff" stroke="#000" stroke-width="1.6"/>
<line x1="103.20" y1="463.90" x2="116.20" y2="463.90" stroke="#8c8c8c" stroke-width="1.4" />
<circle cx="110.2" cy="463.9" r="2.3" fill="#8c8c8c" stroke="#8c8c8c" stroke-width="1.2"/>
<text x="118.50" y="466.20" font-size="6.4" text-anchor="start" font-weight="bold" >surface + CHX</text>
<line x1="103.20" y1="475.30" x2="116.20" y2="475.30" stroke="#000" stroke-width="1.4" />
<circle cx="110.2" cy="475.3" r="2.3" fill="#000" stroke="#000" stroke-width="1.2"/>
<text x="118.50" y="477.60" font-size="6.4" text-anchor="start" font-weight="bold" >surface</text>
<line x1="103.20" y1="486.30" x2="116.20" y2="486.30" stroke="#000" stroke-width="1.4" />
<circle cx="110.2" cy="486.3" r="2.3" fill="#fff" stroke="#000" stroke-width="1.2"/>
<text x="118.50" y="488.60" font-size="6.4" text-anchor="start" font-weight="bold" >intracellular</text>
</g>
<g id="panelE">
<text x="192.20" y="452.20" font-size="15.4" text-anchor="start" font-weight="bold" >E</text>
<text x="194.00" y="529.60" font-size="9.1" text-anchor="middle" font-weight="normal" transform="rotate(-90 194.00 529.60)" >TLR5 fluorescence intensity</text>
<line x1="223.95" y1="569.90" x2="223.95" y2="576.20" stroke="#000" stroke-width="1.5" />
<line x1="221.55" y1="569.90" x2="226.35" y2="569.90" stroke="#000" stroke-width="1.5" />
<rect x="220.85" y="576.20" width="6.20" height="16.30" fill="#000"/>
<line x1="231.85" y1="538.30" x2="231.85" y2="549.00" stroke="#000" stroke-width="1.5" />
<line x1="229.45" y1="538.30" x2="234.25" y2="538.30" stroke="#000" stroke-width="1.5" />
<rect x="229.80" y="549.60" width="4.30" height="42.90" fill="#fff" stroke="#000" stroke-width="1.3"/>
<text x="226.95" y="596.00" font-size="8.3" text-anchor="end" font-weight="normal" transform="rotate(-90 226.95 596.00)" >Medium</text>
<line x1="243.77" y1="498.40" x2="243.77" y2="506.50" stroke="#000" stroke-width="1.5" />
<line x1="241.37" y1="498.40" x2="246.17" y2="498.40" stroke="#000" stroke-width="1.5" />
<rect x="240.67" y="506.50" width="6.20" height="86.00" fill="#000"/>
<line x1="251.67" y1="583.70" x2="251.67" y2="586.20" stroke="#000" stroke-width="1.5" />
<line x1="249.27" y1="583.70" x2="254.07" y2="583.70" stroke="#000" stroke-width="1.5" />
<rect x="249.62" y="586.80" width="4.30" height="5.70" fill="#fff" stroke="#000" stroke-width="1.3"/>
<text x="245.77" y="499.00" font-size="9.5" text-anchor="middle" font-weight="bold" >*</text>
<text x="252.67" y="584.30" font-size="9.5" text-anchor="middle" font-weight="bold" >*</text>
<text x="246.77" y="596.00" font-size="8.3" text-anchor="end" font-weight="normal" transform="rotate(-90 246.77 596.00)" >PMA/Io</text>
<line x1="263.59" y1="534.50" x2="263.59" y2="545.30" stroke="#000" stroke-width="1.5" />
<line x1="261.19" y1="534.50" x2="265.99" y2="534.50" stroke="#000" stroke-width="1.5" />
<rect x="260.49" y="545.30" width="6.20" height="47.20" fill="#000"/>
<line x1="271.49" y1="547.80" x2="271.49" y2="557.40" stroke="#000" stroke-width="1.5" />
<line x1="269.09" y1="547.80" x2="273.89" y2="547.80" stroke="#000" stroke-width="1.5" />
<rect x="269.44" y="558.00" width="4.30" height="34.50" fill="#fff" stroke="#000" stroke-width="1.3"/>
<text x="264.59" y="535.10" font-size="9.5" text-anchor="middle" font-weight="bold" >*</text>
<text x="266.59" y="596.00" font-size="8.3" text-anchor="end" font-weight="normal" transform="rotate(-90 266.59 596.00)" >fMLP</text>
<line x1="283.41" y1="523.50" x2="283.41" y2="539.80" stroke="#000" stroke-width="1.5" />
<line x1="281.01" y1="523.50" x2="285.81" y2="523.50" stroke="#000" stroke-width="1.5" />
<rect x="280.31" y="539.80" width="6.20" height="52.70" fill="#000"/>
<line x1="291.31" y1="542.30" x2="291.31" y2="556.00" stroke="#000" stroke-width="1.5" />
<line x1="288.91" y1="542.30" x2="293.71" y2="542.30" stroke="#000" stroke-width="1.5" />
<rect x="289.26" y="556.60" width="4.30" height="35.90" fill="#fff" stroke="#000" stroke-width="1.3"/>
<text x="284.41" y="524.10" font-size="9.5" text-anchor="middle" font-weight="bold" >*</text>
<text x="286.41" y="596.00" font-size="8.3" text-anchor="end" font-weight="normal" transform="rotate(-90 286.41 596.00)" >TNF-α</text>
<line x1="303.23" y1="529.50" x2="303.23" y2="541.50" stroke="#000" stroke-width="1.5" />
<line x1="300.83" y1="529.50" x2="305.63" y2="529.50" stroke="#000" stroke-width="1.5" />
<rect x="300.13" y="541.50" width="6.20" height="51.00" fill="#000"/>
<line x1="311.13" y1="557.30" x2="311.13" y2="564.10" stroke="#000" stroke-width="1.5" />
<line x1="308.73" y1="557.30" x2="313.53" y2="557.30" stroke="#000" stroke-width="1.5" />
<rect x="309.08" y="564.70" width="4.30" height="27.80" fill="#fff" stroke="#000" stroke-width="1.3"/>
<text x="304.23" y="530.10" font-size="9.5" text-anchor="middle" font-weight="bold" >*</text>
<text x="311.63" y="557.90" font-size="9.5" text-anchor="middle" font-weight="bold" >*</text>
<text x="306.23" y="596.00" font-size="8.3" text-anchor="end" font-weight="normal" transform="rotate(-90 306.23 596.00)" >IL-8</text>
<line x1="323.05" y1="515.60" x2="323.05" y2="526.50" stroke="#000" stroke-width="1.5" />
<line x1="320.65" y1="515.60" x2="325.45" y2="515.60" stroke="#000" stroke-width="1.5" />
<rect x="319.95" y="526.50" width="6.20" height="66.00" fill="#000"/>
<line x1="330.95" y1="560.30" x2="330.95" y2="569.70" stroke="#000" stroke-width="1.5" />
<line x1="328.55" y1="560.30" x2="333.35" y2="560.30" stroke="#000" stroke-width="1.5" />
<rect x="328.90" y="570.30" width="4.30" height="22.20" fill="#fff" stroke="#000" stroke-width="1.3"/>
<text x="324.05" y="516.20" font-size="9.5" text-anchor="middle" font-weight="bold" >*</text>
<text x="331.45" y="560.90" font-size="9.5" text-anchor="middle" font-weight="bold" >*</text>
<text x="326.05" y="596.00" font-size="8.3" text-anchor="end" font-weight="normal" transform="rotate(-90 326.05 596.00)" >G-CSF</text>
<line x1="342.87" y1="577.60" x2="342.87" y2="581.40" stroke="#000" stroke-width="1.5" />
<line x1="340.47" y1="577.60" x2="345.27" y2="577.60" stroke="#000" stroke-width="1.5" />
<rect x="339.77" y="581.40" width="6.20" height="11.10" fill="#000"/>
<line x1="350.77" y1="528.20" x2="350.77" y2="544.60" stroke="#000" stroke-width="1.5" />
<line x1="348.37" y1="528.20" x2="353.17" y2="528.20" stroke="#000" stroke-width="1.5" />
<rect x="348.72" y="545.20" width="4.30" height="47.30" fill="#fff" stroke="#000" stroke-width="1.3"/>
<text x="345.87" y="596.00" font-size="8.3" text-anchor="end" font-weight="normal" transform="rotate(-90 345.87 596.00)" >GM-CSF</text>
<line x1="362.69" y1="527.00" x2="362.69" y2="538.20" stroke="#000" stroke-width="1.5" />
<line x1="360.29" y1="527.00" x2="365.09" y2="527.00" stroke="#000" stroke-width="1.5" />
<rect x="359.59" y="538.20" width="6.20" height="54.30" fill="#000"/>
<line x1="370.59" y1="549.80" x2="370.59" y2="565.30" stroke="#000" stroke-width="1.5" />
<line x1="368.19" y1="549.80" x2="372.99" y2="549.80" stroke="#000" stroke-width="1.5" />
<rect x="368.54" y="565.90" width="4.30" height="26.60" fill="#fff" stroke="#000" stroke-width="1.3"/>
<text x="363.69" y="527.60" font-size="9.5" text-anchor="middle" font-weight="bold" >*</text>
<text x="365.69" y="596.00" font-size="8.3" text-anchor="end" font-weight="normal" transform="rotate(-90 365.69 596.00)" >IFN-γ</text>
<line x1="382.51" y1="551.00" x2="382.51" y2="565.80" stroke="#000" stroke-width="1.5" />
<line x1="380.11" y1="551.00" x2="384.91" y2="551.00" stroke="#000" stroke-width="1.5" />
<rect x="379.41" y="565.80" width="6.20" height="26.70" fill="#000"/>
<line x1="390.41" y1="547.80" x2="390.41" y2="552.30" stroke="#000" stroke-width="1.5" />
<line x1="388.01" y1="547.80" x2="392.81" y2="547.80" stroke="#000" stroke-width="1.5" />
<rect x="388.36" y="552.90" width="4.30" height="39.60" fill="#fff" stroke="#000" stroke-width="1.3"/>
<text x="385.51" y="596.00" font-size="8.3" text-anchor="end" font-weight="normal" transform="rotate(-90 385.51 596.00)" >LPS</text>
<line x1="402.33" y1="498.90" x2="402.33" y2="522.70" stroke="#000" stroke-width="1.5" />
<line x1="399.93" y1="498.90" x2="404.73" y2="498.90" stroke="#000" stroke-width="1.5" />
<rect x="399.23" y="522.70" width="6.20" height="69.80" fill="#000"/>
<line x1="410.23" y1="579.10" x2="410.23" y2="584.60" stroke="#000" stroke-width="1.5" />
<line x1="407.83" y1="579.10" x2="412.63" y2="579.10" stroke="#000" stroke-width="1.5" />
<rect x="408.18" y="585.20" width="4.30" height="7.30" fill="#fff" stroke="#000" stroke-width="1.3"/>
<text x="403.33" y="501.90" font-size="9.5" text-anchor="middle" font-weight="bold" >*</text>
<text x="410.73" y="579.70" font-size="9.5" text-anchor="middle" font-weight="bold" >*</text>
<text x="405.33" y="596.00" font-size="8.3" text-anchor="end" font-weight="normal" transform="rotate(-90 405.33 596.00)" >LTA</text>
<line x1="422.15" y1="467.60" x2="422.15" y2="495.10" stroke="#000" stroke-width="1.5" />
<line x1="419.75" y1="467.60" x2="424.55" y2="467.60" stroke="#000" stroke-width="1.5" />
<rect x="419.05" y="495.10" width="6.20" height="97.40" fill="#000"/>
<line x1="430.05" y1="560.80" x2="430.05" y2="570.30" stroke="#000" stroke-width="1.5" />
<line x1="427.65" y1="560.80" x2="432.45" y2="560.80" stroke="#000" stroke-width="1.5" />
<rect x="428.00" y="570.90" width="4.30" height="21.60" fill="#fff" stroke="#000" stroke-width="1.3"/>
<text x="423.15" y="468.20" font-size="9.5" text-anchor="middle" font-weight="bold" >*</text>
<text x="430.55" y="561.40" font-size="9.5" text-anchor="middle" font-weight="bold" >*</text>
<text x="425.15" y="596.00" font-size="8.3" text-anchor="end" font-weight="normal" transform="rotate(-90 425.15 596.00)" >Pam3CSK4</text>
<line x1="441.97" y1="558.60" x2="441.97" y2="568.60" stroke="#000" stroke-width="1.5" />
<line x1="439.57" y1="558.60" x2="444.37" y2="558.60" stroke="#000" stroke-width="1.5" />
<rect x="438.87" y="568.60" width="6.20" height="23.90" fill="#000"/>
<line x1="449.87" y1="541.00" x2="449.87" y2="549.00" stroke="#000" stroke-width="1.5" />
<line x1="447.47" y1="541.00" x2="452.27" y2="541.00" stroke="#000" stroke-width="1.5" />
<rect x="447.82" y="549.60" width="4.30" height="42.90" fill="#fff" stroke="#000" stroke-width="1.3"/>
<text x="444.97" y="596.00" font-size="8.3" text-anchor="end" font-weight="normal" transform="rotate(-90 444.97 596.00)" >Flagellin</text>
<line x1="461.79" y1="571.60" x2="461.79" y2="575.40" stroke="#000" stroke-width="1.5" />
<line x1="459.39" y1="571.60" x2="464.19" y2="571.60" stroke="#000" stroke-width="1.5" />
<rect x="458.69" y="575.40" width="6.20" height="17.10" fill="#000"/>
<line x1="469.69" y1="538.50" x2="469.69" y2="548.30" stroke="#000" stroke-width="1.5" />
<line x1="467.29" y1="538.50" x2="472.09" y2="538.50" stroke="#000" stroke-width="1.5" />
<rect x="467.64" y="548.90" width="4.30" height="43.60" fill="#fff" stroke="#000" stroke-width="1.3"/>
<text x="464.79" y="596.00" font-size="8.3" text-anchor="end" font-weight="normal" transform="rotate(-90 464.79 596.00)" >CpG</text>
<line x1="481.61" y1="559.80" x2="481.61" y2="568.40" stroke="#000" stroke-width="1.5" />
<line x1="479.21" y1="559.80" x2="484.01" y2="559.80" stroke="#000" stroke-width="1.5" />
<rect x="478.51" y="568.40" width="6.20" height="24.10" fill="#000"/>
<line x1="489.51" y1="537.00" x2="489.51" y2="547.80" stroke="#000" stroke-width="1.5" />
<line x1="487.11" y1="537.00" x2="491.91" y2="537.00" stroke="#000" stroke-width="1.5" />
<rect x="487.46" y="548.40" width="4.30" height="44.10" fill="#fff" stroke="#000" stroke-width="1.3"/>
<text x="484.61" y="596.00" font-size="8.3" text-anchor="end" font-weight="normal" transform="rotate(-90 484.61 596.00)" >GlyH-101</text>
<line x1="220.35" y1="466.60" x2="220.35" y2="593.20" stroke="#000" stroke-width="1.7" />
<line x1="219.65" y1="592.50" x2="493.80" y2="592.50" stroke="#000" stroke-width="1.5" />
<line x1="216.65" y1="592.50" x2="220.35" y2="592.50" stroke="#000" stroke-width="1.4" />
<text x="216.45" y="595.60" font-size="8.6" text-anchor="end" font-weight="normal" >0</text>
<line x1="216.65" y1="567.46" x2="220.35" y2="567.46" stroke="#000" stroke-width="1.4" />
<text x="216.45" y="570.56" font-size="8.6" text-anchor="end" font-weight="normal" >25</text>
<line x1="216.65" y1="542.42" x2="220.35" y2="542.42" stroke="#000" stroke-width="1.4" />
<text x="216.45" y="545.52" font-size="8.6" text-anchor="end" font-weight="normal" >50</text>
<line x1="216.65" y1="517.38" x2="220.35" y2="517.38" stroke="#000" stroke-width="1.4" />
<text x="216.45" y="520.48" font-size="8.6" text-anchor="end" font-weight="normal" >75</text>
<line x1="216.65" y1="492.34" x2="220.35" y2="492.34" stroke="#000" stroke-width="1.4" />
<text x="216.45" y="495.44" font-size="8.6" text-anchor="end" font-weight="normal" >100</text>
<line x1="216.65" y1="467.30" x2="220.35" y2="467.30" stroke="#000" stroke-width="1.4" />
<text x="216.45" y="470.40" font-size="8.6" text-anchor="end" font-weight="normal" >125</text>
<line x1="220.35" y1="549.10" x2="493.80" y2="549.10" stroke="#000" stroke-width="2.1" stroke-dasharray="1.9 0.6"/>
<line x1="220.35" y1="549.40" x2="493.80" y2="549.40" stroke="#000" stroke-width="0.9" />
<line x1="220.35" y1="576.80" x2="493.80" y2="576.80" stroke="#000" stroke-width="1.7" />
<rect x="448.80" y="467.80" width="73.00" height="30.40" fill="#fff" stroke="#000" stroke-width="2.1"/>
<rect x="454.00" y="474.30" width="16.00" height="5.00" fill="#000"/>
<rect x="454.60" y="487.60" width="14.80" height="4.00" fill="#fff" stroke="#000" stroke-width="1.2"/>
<text x="471.60" y="479.80" font-size="8.2" text-anchor="start" font-weight="normal" >surface</text>
<text x="471.60" y="492.50" font-size="8.2" text-anchor="start" font-weight="normal" >intracellular</text>
</g>
</svg></body></html>
